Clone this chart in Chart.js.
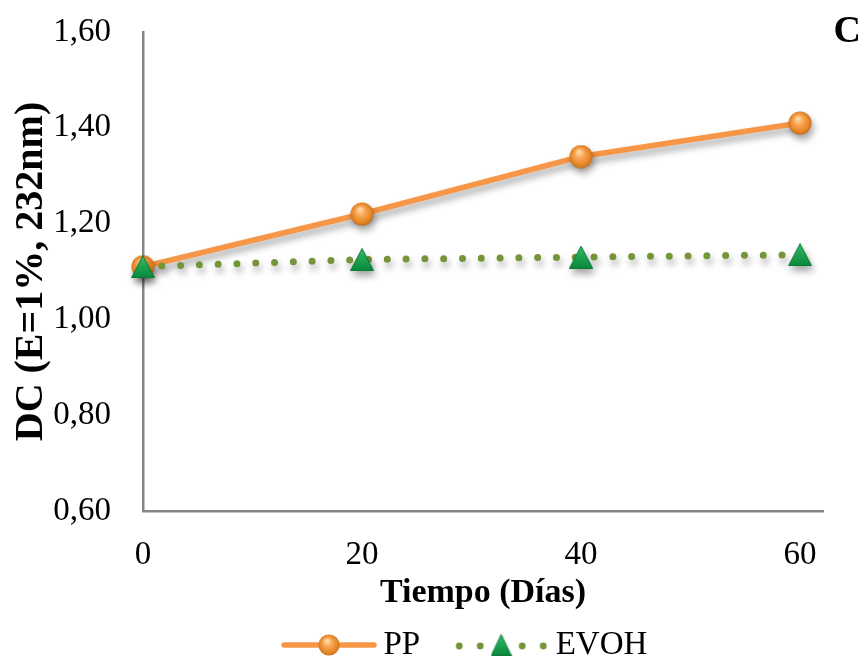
<!DOCTYPE html>
<html>
<head>
<meta charset="utf-8">
<script src="https://cdn.jsdelivr.net/npm/chart.js@4/dist/chart.umd.min.js"></script>
<style>
  html, body { margin: 0; padding: 0; background: #ffffff; }
  #wrap { width: 868px; height: 666px; }
</style>
</head>
<body>
<div id="wrap"><canvas id="chart" width="868" height="666"></canvas></div>
<script>
// Storage time (days) and conjugated dienes for each packaging film
const days = [0, 20, 40, 60];
const ppValues = [1.11, 1.22, 1.34, 1.41];
const evohValues = [1.11, 1.125, 1.13, 1.135];
const seriesNames = ['PP', 'EVOH'];
const xTicks = [0, 20, 40, 60];
const yTicks = [0.6, 0.8, 1.0, 1.2, 1.4, 1.6];
const xAxisMax = 62.1;
const xTitle = 'Tiempo (Días)';
const yTitle = 'DC (E=1%, 232nm)';
const panelLetter = 'C';

const FONT = "'Liberation Serif', 'Times New Roman', serif";
const ORANGE = '#F79646';
const OLIVE = '#76953A';
const AXIS = '#868686';

// Shaded orange ball used as the PP marker
function makeSphere(d) {
  const c = document.createElement('canvas');
  c.width = d; c.height = d;
  const g = c.getContext('2d');
  const r = d / 2;
  const grad = g.createRadialGradient(r * 0.8, r * 0.6, r * 0.05, r, r, r);
  grad.addColorStop(0, '#FFDDA8');
  grad.addColorStop(0.4, '#F8A452');
  grad.addColorStop(0.85, '#E2801F');
  grad.addColorStop(1, '#B4621A');
  g.fillStyle = grad;
  g.beginPath();
  g.arc(r, r, r - 0.5, 0, Math.PI * 2);
  g.fill();
  return c;
}

// Green triangle used as the EVOH marker
function makeTriangle(w, h) {
  const c = document.createElement('canvas');
  c.width = w; c.height = h;
  const g = c.getContext('2d');
  const grad = g.createLinearGradient(0, 0, 0, h);
  grad.addColorStop(0, '#39BD68');
  grad.addColorStop(1, '#06873A');
  g.fillStyle = grad;
  g.strokeStyle = '#0A7A36';
  g.lineWidth = 1;
  g.beginPath();
  g.moveTo(w / 2, 0.5);
  g.lineTo(w - 0.5, h - 0.5);
  g.lineTo(0.5, h - 0.5);
  g.closePath();
  g.fill();
  g.stroke();
  return c;
}

const sphere = makeSphere(24);
const triangle = makeTriangle(24, 23);

// Legend samples: line + marker
function makeLegendPP() {
  const c = document.createElement('canvas');
  c.width = 96; c.height = 26;
  const g = c.getContext('2d');
  g.strokeStyle = ORANGE;
  g.lineWidth = 5.5;
  g.lineCap = 'round';
  g.beginPath(); g.moveTo(3, 13); g.lineTo(93, 13); g.stroke();
  g.drawImage(makeSphere(22), 37, 2);
  return c;
}
function makeLegendEVOH() {
  const c = document.createElement('canvas');
  c.width = 96; c.height = 26;
  const g = c.getContext('2d');
  g.fillStyle = OLIVE;
  [6, 27, 69, 90].forEach(x => { g.beginPath(); g.arc(x, 14, 3.4, 0, Math.PI * 2); g.fill(); });
  g.drawImage(makeTriangle(21, 22), 37.5, 2);
  return c;
}
const legendPP = makeLegendPP();
const legendEVOH = makeLegendEVOH();

const shadowPlugin = {
  id: 'markShadow',
  beforeDatasetsDraw(chart) {
    const ctx = chart.ctx;
    ctx.save();
    ctx.shadowColor = 'rgba(0,0,0,0.35)';
    ctx.shadowBlur = 7;
    ctx.shadowOffsetX = 2;
    ctx.shadowOffsetY = 5;
  },
  afterDatasetsDraw(chart) { chart.ctx.restore(); }
};

const placementPlugin = {
  id: 'placement',
  afterLayout(chart) {
    const lg = chart.legend;
    if (lg && lg.lineWidths) {
      const p = lg.options.labels.padding;
      const start = (lg.left + p + lg.right - lg.lineWidths[0]) / 2;
      const dx = 291 - start;
      lg.left += dx; lg.right += dx;
      const h = lg.height;
      lg.top = 645 - p - 16.5;
      lg.bottom = lg.top + h;
    }
    const xs = chart.scales.x;
    xs.bottom = 616;
  },
  afterDraw(chart) {
    const ctx = chart.ctx;
    ctx.save();
    ctx.font = "bold 38px " + FONT;
    ctx.fillStyle = '#000';
    ctx.textAlign = 'right';
    ctx.textBaseline = 'middle';
    ctx.fillText(panelLetter, 861, 32);
    ctx.restore();
  }
};

const fmt = v => Number(v).toFixed(2).replace('.', ',');

new Chart(document.getElementById('chart'), {
  type: 'line',
  data: {
    datasets: [
      {
        label: seriesNames[0],
        data: days.map((d, i) => ({ x: d, y: ppValues[i] })),
        borderColor: ORANGE,
        borderWidth: 5.5,
        pointStyle: sphere,
        pointRadius: 12,
        pointHoverRadius: 12,
        tension: 0,
        clip: false,
        order: 1
      },
      {
        label: seriesNames[1],
        data: days.map((d, i) => ({ x: d, y: evohValues[i] })),
        borderColor: OLIVE,
        borderWidth: 7,
        borderDash: [0, 18.8],
        borderCapStyle: 'round',
        pointStyle: triangle,
        pointRadius: 12,
        pointHoverRadius: 12,
        tension: 0,
        clip: false,
        order: 0
      }
    ]
  },
  options: {
    responsive: false,
    animation: false,
    events: [],
    layout: { autoPadding: false, padding: { top: 32, right: 45, left: 0, bottom: 0 } },
    plugins: {
      tooltip: { enabled: false },
      legend: {
        position: 'bottom',
        labels: {
          usePointStyle: true,
          pointStyleWidth: 76,
          padding: 43,
          color: '#000',
          font: { family: FONT, size: 33 },
          generateLabels: () => [
            { text: seriesNames[0], pointStyle: legendPP, fillStyle: ORANGE, strokeStyle: 'transparent', lineWidth: 0, hidden: false, datasetIndex: 0, fontColor: '#000' },
            { text: seriesNames[1], pointStyle: legendEVOH, fillStyle: OLIVE, strokeStyle: 'transparent', lineWidth: 0, hidden: false, datasetIndex: 1, fontColor: '#000' }
          ]
        }
      }
    },
    scales: {
      x: {
        type: 'linear',
        min: 0,
        max: xAxisMax,
        grid: { display: false },
        border: { display: true, color: AXIS, width: 2.5 },
        afterBuildTicks: s => { s.ticks = xTicks.map(v => ({ value: v })); },
        afterFit: s => { s.height = 666 - 511 - (s.chart.legend ? s.chart.legend.height : 0); },
        ticks: {
          autoSkip: false,
          maxRotation: 0,
          padding: 17,
          color: '#000',
          font: { family: FONT, size: 33 },
          callback: v => String(v)
        },
        title: {
          display: true,
          text: xTitle,
          color: '#000',
          padding: { top: 2, bottom: 2 },
          font: { family: FONT, size: 34, weight: 'bold' }
        }
      },
      y: {
        type: 'linear',
        min: 0.6,
        max: 1.6,
        grid: { display: false },
        border: { display: true, color: AXIS, width: 2.5 },
        afterBuildTicks: s => { s.ticks = yTicks.map(v => ({ value: v })); },
        afterFit: s => { s.width = 143; },
        ticks: {
          padding: 24,
          color: '#000',
          font: { family: FONT, size: 33, lineHeight: 0.45 },
          callback: v => fmt(v)
        },
        title: {
          display: true,
          text: yTitle,
          color: '#000',
          padding: { top: 8, bottom: 0 },
          font: { family: FONT, size: 40, weight: 'bold' }
        }
      }
    }
  },
  plugins: [shadowPlugin, placementPlugin]
});
</script>
</body>
</html>
